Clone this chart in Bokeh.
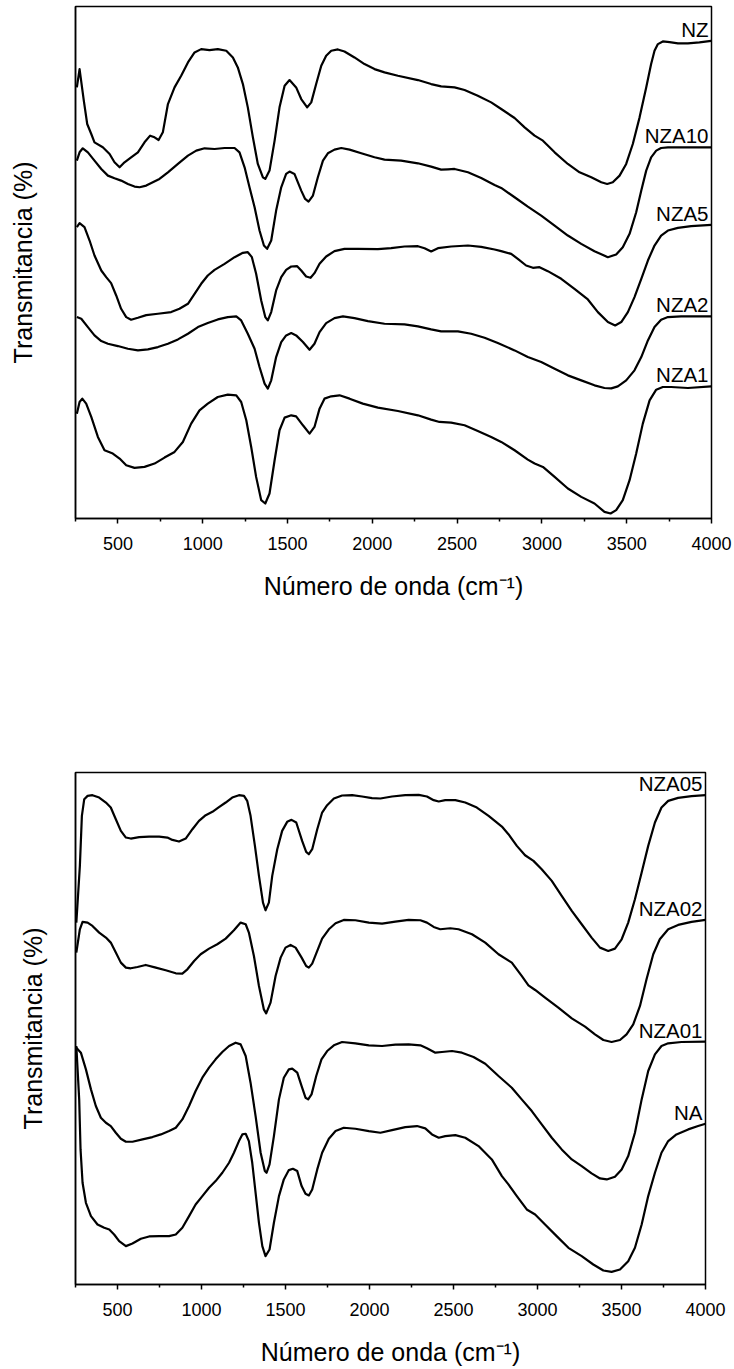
from bokeh.plotting import figure
from bokeh.layouts import column
from bokeh.models import Range1d, FixedTicker, ColumnDataSource
from bokeh.core.properties import value
from bokeh.embed import file_html
from bokeh.resources import INLINE

FONT = "Liberation Sans"

# FTIR spectra: (wavenumber cm^-1, transmittance in stacked arbitrary units)
NZ = [(258, 129.5), (274, 135.0), (299, 125.5), (319, 118.5), (343, 115.5), (362, 113.0), (411, 111.5),
      (451, 109.5), (480, 107.0), (510, 105.5), (539, 107.0), (578, 108.5), (618, 110.0), (657, 113.0),
      (690, 115.0), (716, 114.5), (740, 113.7), (765, 116.0), (795, 124.5), (834, 129.5), (873, 133.0),
      (913, 137.0), (952, 140.0), (991, 141.0), (1040, 140.7), (1089, 141.0), (1139, 140.5), (1178, 138.5),
      (1207, 135.5), (1237, 130.5), (1266, 123.5), (1296, 114.5), (1325, 106.5), (1355, 102.5), (1369, 102.0),
      (1394, 104.5), (1424, 113.5), (1453, 123.5), (1483, 130.0), (1512, 131.7), (1551, 129.5), (1581, 126.0),
      (1616, 123.5), (1640, 125.0), (1669, 130.5), (1699, 136.0), (1728, 139.0), (1758, 140.5), (1797, 140.9),
      (1836, 140.3), (1895, 138.5), (1954, 136.5), (2013, 135.0), (2072, 134.0), (2151, 133.0), (2269, 131.7),
      (2347, 130.5), (2406, 129.8), (2485, 129.5), (2544, 128.7), (2622, 127.0), (2701, 125.0), (2760, 123.0),
      (2839, 120.3), (2898, 117.5), (2957, 115.0), (3006, 113.5), (3075, 110.0), (3153, 106.5), (3222, 104.0),
      (3291, 102.5), (3350, 101.0), (3385, 100.5), (3418, 101.0), (3458, 103.0), (3497, 106.5), (3536, 112.5),
      (3576, 120.5), (3615, 129.5), (3644, 136.5), (3664, 140.5), (3684, 142.5), (3713, 143.3), (3753, 143.1),
      (3802, 142.7), (3861, 142.7), (3929, 143.0), (3998, 143.5)]

NZA10 = [(258, 107.5), (274, 110.0), (293, 111.2), (323, 110.0), (362, 107.5), (402, 105.0), (441, 103.0),
         (480, 102.2), (519, 101.5), (559, 100.5), (598, 99.7), (628, 99.5), (667, 100.0), (706, 101.0),
         (745, 102.0), (795, 104.0), (854, 106.5), (913, 109.0), (962, 110.5), (1011, 111.2), (1070, 111.0),
         (1129, 111.3), (1188, 111.3), (1217, 110.0), (1247, 105.5), (1276, 99.5), (1306, 93.5), (1335, 86.5),
         (1361, 82.0), (1380, 81.0), (1404, 83.5), (1433, 92.5), (1463, 99.5), (1492, 103.5), (1512, 104.2),
         (1541, 103.5), (1581, 98.5), (1604, 96.0), (1624, 95.2), (1650, 97.0), (1679, 102.5), (1709, 107.5),
         (1738, 109.7), (1777, 110.8), (1817, 111.3), (1866, 110.8), (1935, 109.7), (2013, 108.5), (2072, 107.8),
         (2170, 107.5), (2269, 106.7), (2347, 105.7), (2406, 104.8), (2446, 104.9), (2485, 105.0), (2564, 104.0),
         (2642, 102.3), (2721, 100.2), (2760, 99.3), (2839, 96.5), (2917, 93.7), (2996, 91.0), (3075, 88.0),
         (3153, 85.0), (3232, 82.5), (3310, 80.3), (3389, 78.5), (3438, 79.3), (3477, 81.5), (3517, 85.5),
         (3556, 92.0), (3586, 98.5), (3615, 104.5), (3644, 108.5), (3674, 110.5), (3703, 111.3), (3743, 111.5),
         (3861, 111.5), (3998, 111.5)]

NZA5 = [(258, 87.5), (274, 88.7), (303, 87.5), (333, 83.5), (362, 79.0), (402, 74.5), (431, 72.5), (460, 70.7),
        (490, 67.0), (519, 63.0), (549, 60.5), (578, 59.7), (618, 60.3), (667, 61.1), (736, 61.5), (814, 62.0),
        (863, 63.0), (913, 64.5), (952, 67.5), (991, 70.5), (1030, 73.0), (1070, 74.7), (1129, 76.5),
        (1188, 78.5), (1237, 79.8), (1266, 80.0), (1290, 78.5), (1315, 73.5), (1345, 65.5), (1369, 60.5),
        (1384, 59.5), (1404, 62.0), (1433, 68.5), (1463, 72.5), (1492, 74.7), (1522, 75.7), (1557, 75.8),
        (1581, 74.5), (1610, 72.7), (1636, 72.3), (1659, 73.7), (1689, 76.5), (1728, 78.7), (1777, 80.3),
        (1836, 81.0), (1915, 81.0), (2033, 80.9), (2111, 81.2), (2190, 81.7), (2269, 81.8), (2308, 81.2),
        (2347, 80.2), (2387, 81.2), (2465, 81.7), (2564, 82.0), (2642, 81.6), (2721, 80.8), (2760, 80.3),
        (2819, 79.5), (2858, 78.0), (2907, 76.0), (2947, 75.3), (2986, 75.5), (3035, 74.3), (3114, 72.0),
        (3192, 69.0), (3271, 65.8), (3330, 62.0), (3389, 59.0), (3432, 58.0), (3468, 59.0), (3507, 62.0),
        (3546, 66.5), (3586, 72.0), (3625, 77.5), (3664, 82.0), (3703, 85.0), (3743, 86.5), (3802, 87.3),
        (3880, 87.8), (3998, 88.2)]

NZA2 = [(258, 60.5), (284, 60.0), (323, 57.5), (362, 55.0), (402, 53.3), (441, 52.5), (500, 51.8), (559, 51.0),
        (618, 50.5), (677, 50.8), (736, 51.5), (795, 52.5), (854, 53.8), (913, 55.5), (972, 57.5), (1030, 58.7),
        (1089, 59.8), (1148, 60.5), (1198, 60.7), (1227, 59.5), (1266, 55.5), (1306, 51.0), (1335, 45.5),
        (1365, 40.5), (1384, 39.0), (1404, 41.5), (1433, 48.5), (1463, 53.0), (1492, 55.0), (1522, 55.7),
        (1551, 55.0), (1591, 53.0), (1630, 50.7), (1659, 52.5), (1689, 56.0), (1728, 58.7), (1777, 60.2),
        (1827, 60.7), (1895, 60.2), (1974, 59.3), (2072, 58.5), (2190, 58.3), (2269, 57.7), (2347, 56.8),
        (2406, 56.2), (2505, 56.2), (2583, 55.5), (2662, 54.3), (2740, 52.7), (2839, 50.5), (2917, 48.5),
        (2996, 47.0), (3075, 45.0), (3153, 43.0), (3232, 41.5), (3310, 40.0), (3369, 39.2), (3409, 39.1),
        (3448, 39.7), (3497, 41.5), (3546, 44.5), (3586, 48.5), (3625, 53.5), (3664, 57.5), (3703, 59.7),
        (3743, 60.5), (3821, 60.7), (3998, 60.7)]

NZA1 = [(258, 31.5), (274, 35.0), (290, 36.0), (313, 34.5), (343, 30.5), (382, 24.5), (421, 20.5), (470, 19.5),
        (510, 18.0), (549, 16.0), (598, 15.2), (657, 15.5), (716, 16.5), (775, 18.3), (834, 20.0), (883, 23.0),
        (932, 28.5), (981, 32.5), (1030, 34.5), (1089, 36.5), (1148, 37.2), (1198, 37.0), (1227, 35.0),
        (1257, 29.5), (1286, 21.5), (1315, 12.5), (1345, 5.5), (1369, 4.5), (1394, 7.5), (1424, 17.5),
        (1453, 26.5), (1483, 30.3), (1522, 31.0), (1551, 30.7), (1591, 28.0), (1630, 25.5), (1659, 27.5),
        (1689, 33.0), (1718, 36.0), (1758, 36.7), (1807, 37.0), (1866, 36.0), (1944, 34.5), (2033, 33.3),
        (2151, 32.3), (2269, 31.0), (2347, 29.7), (2396, 29.0), (2465, 28.8), (2544, 28.0), (2622, 26.3),
        (2701, 24.5), (2760, 23.0), (2839, 20.5), (2917, 17.7), (2957, 16.5), (3006, 15.5), (3075, 12.5),
        (3153, 9.0), (3232, 6.5), (3310, 4.5), (3369, 2.0), (3405, 1.5), (3438, 2.5), (3477, 5.5), (3517, 11.5),
        (3556, 19.5), (3595, 28.5), (3635, 35.5), (3674, 38.7), (3713, 39.5), (3762, 39.5), (3861, 39.2),
        (3998, 39.7)]

NZA05 = [(255, 108.5), (276, 125.5), (288, 140.5), (302, 145.5), (322, 146.5), (351, 146.7), (391, 146.0),
         (431, 144.5), (460, 143.0), (490, 139.5), (520, 136.0), (550, 134.0), (579, 133.7), (629, 134.1),
         (688, 134.3), (748, 134.3), (797, 134.0), (827, 133.3), (866, 132.8), (906, 133.7), (946, 136.5),
         (985, 139.0), (1025, 140.7), (1065, 141.7), (1104, 143.1), (1144, 144.5), (1183, 146.0), (1223, 146.7),
         (1253, 146.5), (1272, 145.0), (1292, 140.5), (1318, 131.5), (1342, 122.5), (1366, 114.5), (1381, 112.2),
         (1401, 114.5), (1421, 122.5), (1451, 130.5), (1480, 136.0), (1510, 138.7), (1536, 139.3), (1564, 138.5),
         (1599, 133.0), (1623, 129.7), (1639, 129.0), (1659, 130.5), (1689, 136.5), (1718, 141.5), (1748, 143.7),
         (1788, 145.7), (1837, 146.6), (1897, 146.7), (1956, 146.3), (2015, 145.8), (2065, 145.7), (2134, 146.3),
         (2213, 146.7), (2293, 146.8), (2342, 146.3), (2382, 145.2), (2412, 144.8), (2451, 145.2), (2511, 145.2),
         (2570, 144.5), (2639, 143.0), (2709, 140.5), (2788, 137.3), (2827, 135.0), (2877, 131.5), (2926, 128.7),
         (2976, 127.0), (3025, 124.5), (3085, 121.0), (3144, 116.5), (3204, 112.0), (3263, 108.0), (3322, 104.0),
         (3372, 101.0), (3421, 100.0), (3461, 100.7), (3501, 103.5), (3540, 108.5), (3580, 115.5), (3620, 123.5),
         (3659, 131.5), (3699, 138.5), (3738, 143.0), (3778, 145.0), (3837, 145.9), (3917, 146.4), (4000, 146.7)]

NZA02 = [(255, 99.5), (276, 106.5), (292, 108.7), (322, 108.5), (351, 107.5), (391, 105.5), (431, 104.0),
         (460, 102.5), (490, 99.5), (520, 96.5), (550, 95.0), (579, 94.8), (619, 95.2), (668, 95.8), (728, 95.0),
         (787, 94.2), (847, 93.3), (886, 93.2), (916, 94.5), (956, 97.0), (995, 99.0), (1045, 100.7), (1094, 102.0),
         (1144, 103.7), (1193, 106.2), (1233, 108.5), (1263, 108.0), (1282, 105.5), (1312, 98.5), (1342, 89.5),
         (1371, 82.5), (1385, 81.3), (1411, 84.5), (1441, 92.5), (1471, 98.0), (1500, 101.0), (1530, 101.8),
         (1560, 101.0), (1596, 98.0), (1623, 95.5), (1639, 95.0), (1659, 96.2), (1689, 100.0), (1718, 103.7),
         (1758, 106.5), (1798, 108.3), (1847, 109.3), (1916, 109.2), (1996, 108.5), (2075, 108.2), (2154, 108.8),
         (2233, 109.3), (2303, 109.2), (2342, 108.5), (2382, 107.2), (2421, 106.5), (2481, 106.8), (2530, 106.5),
         (2610, 105.0), (2689, 102.5), (2768, 99.0), (2847, 96.5), (2906, 92.5), (2946, 89.7), (2986, 88.3),
         (3045, 86.0), (3124, 83.0), (3204, 79.8), (3283, 77.3), (3342, 75.0), (3392, 73.3), (3441, 72.7),
         (3491, 73.3), (3530, 75.0), (3570, 78.0), (3610, 83.5), (3649, 91.5), (3689, 99.0), (3728, 103.5),
         (3778, 106.5), (3837, 107.8), (3917, 108.7), (4000, 109.3)]

NZA01 = [(255, 71.0), (282, 69.5), (312, 64.5), (342, 58.5), (371, 53.5), (401, 50.0), (431, 48.5), (460, 47.5),
         (490, 45.5), (520, 43.7), (550, 42.8), (589, 42.8), (649, 43.5), (708, 44.2), (758, 45.0), (807, 46.0),
         (847, 47.0), (886, 49.5), (926, 53.5), (965, 58.0), (1005, 62.0), (1045, 65.0), (1084, 67.5),
         (1124, 69.7), (1164, 71.5), (1203, 72.5), (1233, 72.0), (1263, 68.5), (1292, 60.5), (1322, 50.5),
         (1352, 39.5), (1377, 34.0), (1387, 33.5), (1405, 36.0), (1431, 44.5), (1461, 55.5), (1490, 62.0),
         (1520, 64.5), (1540, 64.7), (1570, 63.5), (1596, 59.5), (1619, 56.0), (1635, 55.5), (1655, 57.0),
         (1683, 62.5), (1714, 67.5), (1748, 70.0), (1788, 71.7), (1837, 72.7), (1916, 72.3), (1996, 71.7),
         (2075, 71.5), (2154, 71.9), (2233, 72.0), (2303, 71.7), (2342, 70.8), (2392, 69.5), (2431, 69.7),
         (2491, 70.0), (2550, 69.5), (2619, 68.2), (2689, 66.2), (2768, 62.5), (2847, 59.0), (2906, 55.5),
         (2966, 52.0), (3025, 48.0), (3085, 44.0), (3144, 40.5), (3204, 37.5), (3263, 35.5), (3322, 33.3),
         (3372, 31.8), (3412, 31.5), (3461, 32.3), (3501, 34.5), (3540, 38.5), (3580, 45.5), (3620, 55.5),
         (3659, 64.0), (3699, 69.0), (3738, 71.5), (3778, 72.3), (3857, 72.7), (4000, 72.8)]

NA = [(255, 71.5), (272, 55.5), (280, 40.5), (292, 30.5), (312, 24.5), (342, 20.5), (381, 18.0), (421, 17.0),
      (451, 16.5), (480, 15.0), (510, 13.0), (550, 11.5), (589, 12.3), (639, 13.7), (688, 14.4), (748, 14.5),
      (807, 14.5), (847, 15.0), (886, 17.0), (926, 20.5), (965, 24.0), (1005, 26.5), (1045, 29.0), (1084, 31.0),
      (1124, 33.5), (1164, 36.5), (1193, 39.5), (1223, 43.0), (1243, 45.0), (1263, 45.2), (1282, 43.0),
      (1302, 36.5), (1322, 27.5), (1342, 18.5), (1362, 11.5), (1381, 8.5), (1405, 10.5), (1431, 18.5),
      (1461, 26.5), (1490, 31.5), (1520, 34.3), (1544, 34.7), (1570, 34.0), (1596, 29.5), (1619, 27.2),
      (1639, 26.7), (1659, 28.5), (1689, 34.5), (1718, 39.5), (1758, 43.7), (1798, 46.0), (1847, 47.0),
      (1916, 46.7), (1996, 46.0), (2065, 45.5), (2134, 46.3), (2213, 47.2), (2283, 47.5), (2332, 46.8),
      (2372, 45.0), (2412, 44.0), (2451, 44.5), (2511, 44.8), (2570, 44.0), (2649, 41.5), (2728, 37.5),
      (2788, 32.5), (2827, 30.0), (2877, 26.5), (2936, 22.5), (2986, 21.0), (3045, 18.0), (3114, 14.5),
      (3184, 11.0), (3263, 8.5), (3332, 6.0), (3392, 4.2), (3441, 3.8), (3491, 4.5), (3540, 7.0), (3580, 11.0),
      (3620, 18.0), (3659, 26.5), (3699, 33.5), (3738, 39.5), (3778, 43.0), (3827, 45.0), (3897, 46.5),
      (3956, 47.5), (4000, 48.2)]

TOP_NAMES = ["NZ", "NZA10", "NZA5", "NZA2", "NZA1"]
TOP_SERIES = [NZ, NZA10, NZA5, NZA2, NZA1]
BOTTOM_NAMES = ["NZA05", "NZA02", "NZA01", "NA"]
BOTTOM_SERIES = [NZA05, NZA02, NZA01, NA]

X_TICKS = [500, 1000, 1500, 2000, 2500, 3000, 3500, 4000]
X_LABEL = "Número de onda (cm⁻¹)"
Y_LABEL = "Transmitancia (%)"


def panel(names, series, y_top, frame_w, left, right, top, bottom, y_standoff):
    p = figure(frame_width=frame_w, frame_height=512,
               x_range=Range1d(250, 4000), y_range=Range1d(0, y_top),
               output_backend="svg", toolbar_location=None,
               min_border_left=left, min_border_right=right,
               min_border_top=top, min_border_bottom=bottom)
    p.grid.visible = False
    p.background_fill_color = "white"
    p.border_fill_color = "white"
    p.outline_line_color = "black"
    p.outline_line_width = 1.5

    for pairs in series:
        src = ColumnDataSource(dict(wn=[a for a, _ in pairs], t=[b for _, b in pairs]))
        p.line("wn", "t", source=src, line_color="black", line_width=2.2, line_join="round")

    # sample names sit just above the right end of each trace
    ends = [s[-1][1] for s in series]
    p.text(x=[p.x_range.end] * len(names), y=ends, text=names,
           text_align="right", text_baseline="bottom", x_offset=-3, y_offset=0,
           text_font=value(FONT), text_font_size="20.5px", text_color="black")

    minor = [t - 250 for t in X_TICKS]
    xa = p.xaxis[0]
    xa.ticker = FixedTicker(ticks=X_TICKS, minor_ticks=minor)
    xa.axis_line_width = 1.5
    xa.major_tick_line_width = 1.5
    xa.minor_tick_line_width = 1.5
    xa.major_tick_in = 0
    xa.major_tick_out = 5
    xa.minor_tick_in = 0
    xa.minor_tick_out = 3
    xa.major_label_text_font = FONT
    xa.major_label_text_font_size = "18px"
    xa.major_label_text_color = "black"
    xa.major_label_standoff = 13
    xa.axis_label = X_LABEL
    xa.axis_label_text_font = FONT
    xa.axis_label_text_font_size = "25px"
    xa.axis_label_text_font_style = "normal"
    xa.axis_label_text_color = "black"
    xa.axis_label_standoff = 19

    ya = p.yaxis[0]
    ya.ticker = FixedTicker(ticks=[])
    ya.axis_line_width = 1.5
    ya.major_tick_out = 0
    ya.minor_tick_out = 0
    ya.axis_label = Y_LABEL
    ya.axis_label_text_font = FONT
    ya.axis_label_text_font_size = "25px"
    ya.axis_label_text_font_style = "normal"
    ya.axis_label_text_color = "black"
    ya.axis_label_standoff = y_standoff
    return p


p1 = panel(TOP_NAMES, TOP_SERIES, 153.8, 636, 75, 23, 6, 182, 39)
p2 = panel(BOTTOM_NAMES, BOTTOM_SERIES, 153.5, 630, 74, 30, 72, 85, 29)

layout = column(p1, p2, spacing=0)
open("out.html", "w").write(file_html(layout, INLINE))
